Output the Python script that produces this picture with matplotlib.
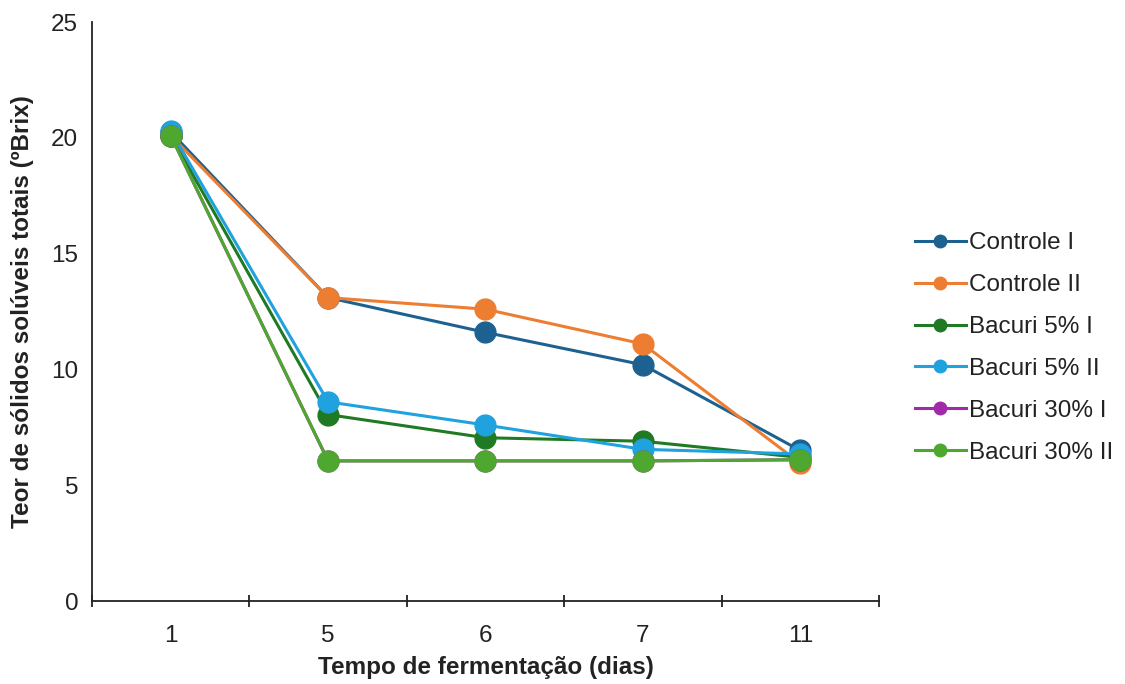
import matplotlib.pyplot as plt
import numpy as np
from matplotlib.ticker import FixedLocator

plt.rcParams["font.family"] = ["Liberation Sans", "DejaVu Sans"]

# Fermentation days (categorical axis)
days = ["1", "5", "6", "7", "11"]

# Total soluble solids (ºBrix)
controle_1 = [20.25, 13.1, 11.6, 10.2, 6.5]
controle_2 = [20.1, 13.1, 12.6, 11.1, 5.95]
bacuri5_1 = [20.1, 8.05, 7.05, 6.9, 6.2]
bacuri5_2 = [20.3, 8.6, 7.6, 6.55, 6.35]
bacuri30_1 = [20.1, 6.05, 6.05, 6.05, 6.1]
bacuri30_2 = [20.1, 6.05, 6.05, 6.05, 6.1]

series = [
    ("Controle I", controle_1, "#1d6190"),
    ("Controle II", controle_2, "#ed7d31"),
    ("Bacuri 5% I", bacuri5_1, "#1f7a23"),
    ("Bacuri 5% II", bacuri5_2, "#1fa2de"),
    ("Bacuri 30% I", bacuri30_1, "#a02aa8"),
    ("Bacuri 30% II", bacuri30_2, "#4ea72e"),
]

FS = 17.5
INK = "#222222"

fig = plt.figure(figsize=(11.25, 6.84), dpi=100)
ax = fig.add_axes([0.0818, 0.1213, 0.6995, 0.8465])

x = np.arange(len(days))
for name, vals, color in series:
    ax.plot(x, vals, color=color, lw=2.2, marker="o", markersize=15, label=name)

ax.set_xlim(-0.5, len(days) - 0.5)
ax.set_ylim(0, 25)
ax.set_yticks(range(0, 26, 5))
ax.set_xticks(x)
ax.set_xticklabels(days)
ax.xaxis.set_minor_locator(FixedLocator(np.arange(-0.5, len(days), 1.0)))

for side in ("top", "right"):
    ax.spines[side].set_visible(False)
for side in ("left", "bottom"):
    ax.spines[side].set_color(INK)
    ax.spines[side].set_linewidth(1.3)

ax.tick_params(axis="y", length=0, pad=10, labelsize=FS, labelcolor=INK)
ax.tick_params(axis="x", which="major", length=0, pad=17, labelsize=FS, labelcolor=INK)
ax.tick_params(axis="x", which="minor", direction="inout", length=9, width=1.3, color=INK)

ax.set_xlabel("Tempo de fermentação (dias)", fontsize=FS, fontweight="bold",
              color=INK, labelpad=7)
ax.set_ylabel("Teor de sólidos solúveis totais (ºBrix)", fontsize=FS,
              fontweight="bold", color=INK, labelpad=12)

leg = ax.legend(loc="center left", bbox_to_anchor=(1.03, 0.437), frameon=False,
                fontsize=FS, markerscale=0.6, handlelength=2.1,
                handletextpad=0.15, labelspacing=0.82, borderpad=0)
for t in leg.get_texts():
    t.set_color(INK)

fig.savefig("out.png", dpi=100)
